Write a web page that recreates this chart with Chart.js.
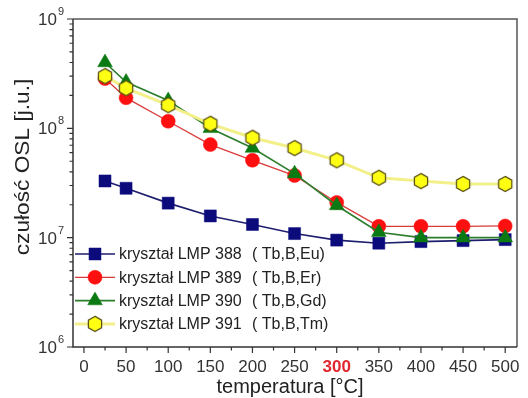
<!DOCTYPE html>
<html>
<head>
<meta charset="utf-8">
<script src="https://cdn.jsdelivr.net/npm/chart.js@4/dist/chart.umd.min.js"></script>
<style>
  html, body { margin: 0; padding: 0; background: #ffffff; }
  #wrap { width: 528px; height: 398px; position: relative; }
</style>
</head>
<body>
<div id="wrap"><canvas id="c" width="528" height="398"></canvas></div>
<script>
// ---- data ----
const temps = [25, 50, 100, 150, 200, 250, 300, 350, 400, 450, 500];
const lmp388 = [3.3e7, 2.83e7, 2.07e7, 1.58e7, 1.32e7, 1.09e7, 9.5e6, 8.9e6, 9.2e6, 9.4e6, 9.6e6];
const lmp389 = [2.85e8, 1.9e8, 1.16e8, 7.1e7, 5.1e7, 3.7e7, 2.1e7, 1.27e7, 1.27e7, 1.27e7, 1.28e7];
const lmp390 = [4.0e8, 2.65e8, 1.8e8, 1.0e8, 6.6e7, 3.85e7, 1.97e7, 1.12e7, 1.0e7, 1.0e7, 1.0e7];
const lmp391 = [3.0e8, 2.33e8, 1.63e8, 1.1e8, 8.2e7, 6.6e7, 5.1e7, 3.53e7, 3.29e7, 3.1e7, 3.1e7];
const seriesNames = ['kryształ LMP 388', 'kryształ LMP 389', 'kryształ LMP 390', 'kryształ LMP 391'];
const seriesDopants = ['( Tb,B,Eu)', '( Tb,B,Er)', '( Tb,B,Gd)', '( Tb,B,Tm)'];
const xTickLabels = [0, 50, 100, 150, 200, 250, 300, 350, 400, 450, 500];
const xMinorTicks = [25, 75, 125, 175, 225, 275, 325, 375, 425, 475];
const yDecades = [6, 7, 8, 9];
const highlightTick = 300;
const xTitle = 'temperatura [°C]';
const yTitle = 'czułość OSL [j.u.]';

// hexagon marker
function makeHex(R) {
  const s = Math.ceil(R * 2 + 4);
  const cv = document.createElement('canvas');
  cv.width = s; cv.height = s;
  const g = cv.getContext('2d');
  g.beginPath();
  for (let k = 0; k < 6; k++) {
    const a = -Math.PI / 2 + k * Math.PI / 3;
    const px = s / 2 + R * Math.cos(a), py = s / 2 + R * Math.sin(a);
    if (k === 0) g.moveTo(px, py); else g.lineTo(px, py);
  }
  g.closePath();
  g.fillStyle = '#ffff14';
  g.fill();
  g.lineWidth = 1.3;
  g.strokeStyle = '#5e5416';
  g.stroke();
  return cv;
}
const hexImg = makeHex(7.6);

const pts = (arr) => temps.map((t, i) => ({ x: t, y: arr[i] }));

const datasets = [
  { label: seriesNames[0], data: pts(lmp388), borderColor: '#1e1e6e', borderWidth: 1.6,
    pointStyle: 'rect', pointRadius: 8.5, pointBackgroundColor: '#0b0b7c', pointBorderColor: '#0b0b7c', pointBorderWidth: 0.5, order: 4 },
  { label: seriesNames[1], data: pts(lmp389), borderColor: '#d93a3a', borderWidth: 1.3,
    pointStyle: 'circle', pointRadius: 7, pointBackgroundColor: '#ff1010', pointBorderColor: '#ff1010', pointBorderWidth: 0.5, order: 3 },
  { label: seriesNames[2], data: pts(lmp390), borderColor: '#2b7d2b', borderWidth: 1.6,
    pointStyle: 'triangle', pointRadius: 8.5, pointBackgroundColor: '#0c7a12', pointBorderColor: '#0c7a12', pointBorderWidth: 0.5, order: 2 },
  { label: seriesNames[3], data: pts(lmp391), borderColor: '#f3f08a', borderWidth: 3,
    pointStyle: hexImg, pointRadius: 8, pointBackgroundColor: '#ffff14', pointBorderColor: '#5e5416', order: 1 }
];

const decorPlugin = {
  id: 'decor',
  afterDraw(chart) {
    const ctx = chart.ctx;
    const a = chart.chartArea;
    const xs = chart.scales.x, ys = chart.scales.y;
    ctx.save();
    // frame
    ctx.strokeStyle = '#555';
    ctx.lineWidth = 1.5;
    ctx.beginPath();
    ctx.moveTo(a.left, a.top); ctx.lineTo(a.right, a.top); ctx.lineTo(a.right, a.bottom);
    ctx.stroke();
    ctx.strokeStyle = '#333';
    ctx.beginPath();
    ctx.moveTo(a.left, a.top); ctx.lineTo(a.left, a.bottom); ctx.lineTo(a.right, a.bottom);
    ctx.stroke();
    // x ticks
    ctx.lineWidth = 1.2;
    ctx.beginPath();
    xTickLabels.forEach(v => { const px = xs.getPixelForValue(v); ctx.moveTo(px, a.bottom); ctx.lineTo(px, a.bottom + 6); });
    xMinorTicks.forEach(v => { const px = xs.getPixelForValue(v); ctx.moveTo(px, a.bottom); ctx.lineTo(px, a.bottom + 3.5); });
    // y ticks
    for (let d = yDecades[0]; d <= yDecades[yDecades.length - 1]; d++) {
      const py = ys.getPixelForValue(Math.pow(10, d));
      ctx.moveTo(a.left, py); ctx.lineTo(a.left - 6, py);
      if (d < yDecades[yDecades.length - 1]) {
        for (let m = 2; m <= 9; m++) {
          const pm = ys.getPixelForValue(m * Math.pow(10, d));
          ctx.moveTo(a.left, pm); ctx.lineTo(a.left - 3.5, pm);
        }
      }
    }
    ctx.stroke();
    // y labels
    ctx.fillStyle = '#333';
    ctx.textBaseline = 'alphabetic';
    yDecades.forEach(d => {
      const py = ys.getPixelForValue(Math.pow(10, d));
      ctx.font = '11px "Liberation Sans", Arial, sans-serif';
      const ew = ctx.measureText(String(d)).width;
      const right = a.left - 9;
      ctx.textAlign = 'right';
      ctx.fillText(String(d), right, py - 4);
      ctx.font = '17px "Liberation Sans", Arial, sans-serif';
      ctx.fillText('10', right - ew - 1, py + 6);
    });
    // y title
    ctx.save();
    ctx.translate(23, 167);
    ctx.rotate(-Math.PI / 2);
    ctx.font = '21px "Liberation Sans", Arial, sans-serif';
    ctx.textAlign = 'center';
    ctx.textBaseline = 'middle';
    ctx.fillStyle = '#222';
    ctx.scale(1.08, 1);
    ctx.fillText(yTitle, 0, 0);
    ctx.restore();
    // x title
    ctx.font = '20px "Liberation Sans", Arial, sans-serif';
    ctx.textAlign = 'center';
    ctx.textBaseline = 'middle';
    ctx.fillStyle = '#222';
    ctx.fillText(xTitle, 290, 387);
    // legend
    const rowY0 = 254, rowDy = 23.3;
    chart.data.datasets.forEach((ds, i) => {
      const y = rowY0 + i * rowDy;
      ctx.strokeStyle = ds.borderColor;
      ctx.lineWidth = ds.borderWidth;
      ctx.beginPath(); ctx.moveTo(75, y); ctx.lineTo(115, y); ctx.stroke();
      if (ds.pointStyle instanceof HTMLCanvasElement) {
        ctx.drawImage(ds.pointStyle, 95 - ds.pointStyle.width / 2, y - ds.pointStyle.height / 2);
      } else {
        ctx.fillStyle = ds.pointBackgroundColor;
        ctx.strokeStyle = ds.pointBorderColor;
        ctx.lineWidth = ds.pointBorderWidth;
        Chart.helpers.drawPoint(ctx, { pointStyle: ds.pointStyle, radius: ds.pointRadius, rotation: 0, borderWidth: ds.pointBorderWidth }, 95, y);
      }
      ctx.fillStyle = '#222';
      ctx.font = '16px "Liberation Sans", Arial, sans-serif';
      ctx.textAlign = 'left';
      ctx.textBaseline = 'middle';
      ctx.fillText(seriesNames[i], 119, y + 1);
      ctx.fillText(seriesDopants[i], 252, y + 1);
    });
    ctx.restore();
  }
};

new Chart(document.getElementById('c'), {
  type: 'line',
  data: { datasets },
  plugins: [decorPlugin],
  options: {
    responsive: false,
    animation: false,
    devicePixelRatio: 1,
    layout: { padding: { left: 0, right: 7, top: 19, bottom: 0 } },
    plugins: { legend: { display: false }, tooltip: { enabled: false } },
    elements: { line: { tension: 0 } },
    scales: {
      x: {
        type: 'linear', min: -13, max: 514,
        afterBuildTicks: (s) => { s.ticks = xTickLabels.map(v => ({ value: v })); },
        afterFit: (s) => { s.height = 51; },
        grid: { display: false, drawTicks: true, tickLength: 6 },
        border: { display: false },
        ticks: {
          padding: 4,
          maxRotation: 0,
          autoSkip: false,
          color: (c) => c.tick && c.tick.value === highlightTick ? '#e0262e' : '#333',
          font: (c) => ({ family: '"Liberation Sans", Arial, sans-serif', size: 17, weight: c.tick && c.tick.value === highlightTick ? 'bold' : 'normal' }),
          callback: (v) => String(v)
        }
      },
      y: {
        type: 'logarithmic', min: 1e6, max: 1e9,
        afterFit: (s) => { s.width = 73; },
        grid: { display: false },
        border: { display: false },
        ticks: { display: false }
      }
    }
  }
});
</script>
</body>
</html>
